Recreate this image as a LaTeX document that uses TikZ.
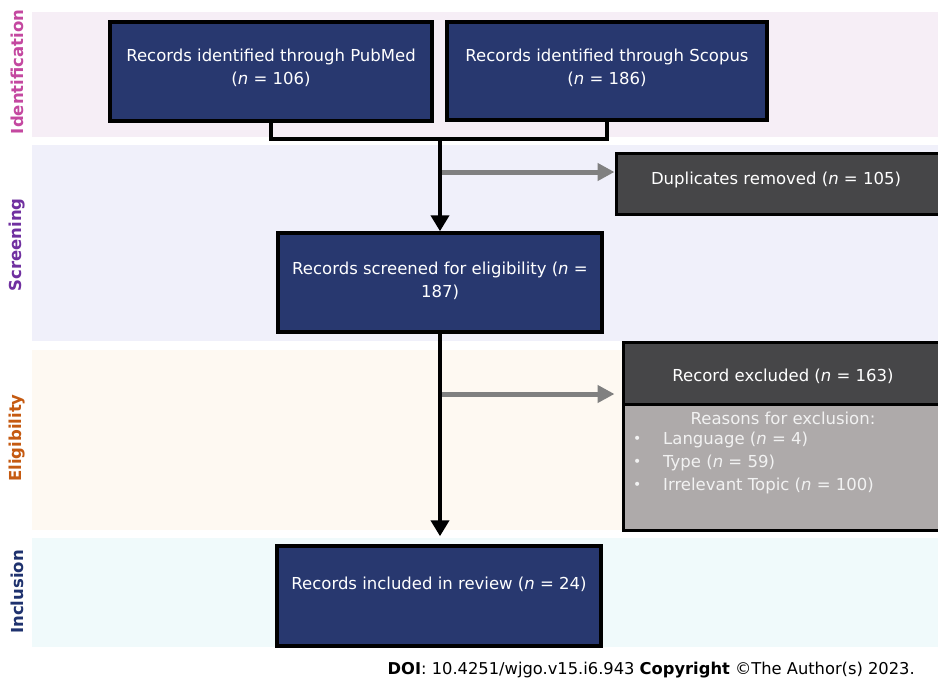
\documentclass[tikz,border=0pt]{standalone}
\usepackage{fontspec}
\setmainfont{DejaVu Sans}
\usetikzlibrary{arrows.meta}
\definecolor{navy}{RGB}{40,56,111}
\definecolor{dgray}{RGB}{70,70,72}
\definecolor{lgray}{RGB}{174,170,170}
\definecolor{agray}{RGB}{128,128,128}
\definecolor{bandI}{RGB}{246,238,246}
\definecolor{bandS}{RGB}{240,240,250}
\definecolor{bandE}{RGB}{254,249,242}
\definecolor{bandN}{RGB}{240,250,251}
\definecolor{labI}{RGB}{196,72,160}
\definecolor{labS}{RGB}{112,48,160}
\definecolor{labE}{RGB}{197,90,17}
\definecolor{labN}{RGB}{31,50,110}
\tikzset{
  navybox/.style={draw=black, line width=3.5pt, fill=navy, inner sep=0pt},
  dgbox/.style={draw=black, line width=3pt, fill=dgray, inner sep=0pt},
  lgbox/.style={draw=black, line width=3pt, fill=lgray, inner sep=0pt},
  btxt/.style={text=white, align=center, font=\fontsize{16.5}{22.5}\selectfont, inner sep=0pt},
  ltxt/.style={text=white!95!black, font=\fontsize{16.5}{22.5}\selectfont, inner sep=0pt},
  lab/.style={rotate=90, font=\bfseries\fontsize{16.5}{19}\selectfont, inner sep=0pt},
  conn/.style={draw=black, line width=4pt},
  arr/.style={draw=black, line width=4pt, -{Triangle[length=16pt,width=18pt]}},
  garr/.style={draw=agray, line width=5pt, -{Triangle[length=17pt,width=17pt]}}
}
\begin{document}
\begin{tikzpicture}[x=1pt,y=-1pt]
\useasboundingbox (0,0) rectangle (938,681);
\fill[white] (0,0) rectangle (938,681);
% bands
\fill[bandI] (32,12) rectangle (938,137);
\fill[bandS] (32,145) rectangle (938,341);
\fill[bandE] (32,350) rectangle (938,530);
\fill[bandN] (32,538) rectangle (938,647);
% stage labels
\node[lab, text=labI] (lI) at (17,72) {Identification};
\node[lab, text=labS] (lS) at (17,245) {Screening};
\node[lab, text=labE] (lE) at (17,438) {Eligibility};
\node[lab, text=labN] (lN) at (17,592) {Inclusion};
% boxes
\node[navybox, minimum width=322pt, minimum height=99pt] (pub) at (271,71.5) {};
\node[navybox, minimum width=320pt, minimum height=98pt] (scop) at (607,71) {};
\node[dgbox, minimum width=330pt, minimum height=61pt] (dup) at (781,183.5) {};
\node[navybox, minimum width=324pt, minimum height=99pt] (scr) at (440,282.5) {};
\node[dgbox, minimum width=320pt, minimum height=62pt] (exc) at (783,373) {};
\node[lgbox, minimum width=320pt, minimum height=126pt] (rea) at (783,467) {};
\node[navybox, minimum width=324pt, minimum height=100pt] (inc) at (439,596) {};
% box texts
\node[btxt] (tpub) at (271,68) {Records identified through PubMed\\(\textit{n} = 106)};
\node[btxt] (tscop) at (607,68) {Records identified through Scopus\\(\textit{n} = 186)};
\node[btxt] (tdup) at (776,180) {Duplicates removed (\textit{n} = 105)};
\node[btxt] (tscr) at (440,281) {Records screened for eligibility (\textit{n} =\\187)};
\node[btxt] (texc) at (783,376) {Record excluded (\textit{n} = 163)};
\node[ltxt] (trea) at (783,418) {Reasons for exclusion:};
\node[ltxt, anchor=west] (b1) at (633,440) {\fontsize{14}{14}\selectfont•};
\node[ltxt, anchor=west] (b2) at (633,463) {\fontsize{14}{14}\selectfont•};
\node[ltxt, anchor=west] (b3) at (633,486) {\fontsize{14}{14}\selectfont•};
\node[ltxt, anchor=west] (r1) at (663,440) {Language (\textit{n} = 4)};
\node[ltxt, anchor=west] (r2) at (663,463) {Type (\textit{n} = 59)};
\node[ltxt, anchor=west] (r3) at (663,486) {Irrelevant Topic (\textit{n} = 100)};
\node[btxt] (tinc) at (439,584) {Records included in review (\textit{n} = 24)};
% connectors
\coordinate (j) at (440,139);
\draw[conn] (pub.south) |- (j) -| (scop.south);
\draw[arr] (j) -- (scr.north);
\draw[arr, shorten >=8pt] (scr.south) -- (scr.south |- inc.north);
\coordinate (g1) at (442,172);
\draw[garr] (g1) -- (g1 -| dup.west);
\coordinate (g2) at (442,394);
\draw[garr, shorten >=7pt] (g2) -- (g2 -| exc.west);
% footer
\node[anchor=east, inner sep=0pt, font=\fontsize{16.3}{19}\selectfont] (doi) at (915,670) {\textbf{DOI}: 10.4251/wjgo.v15.i6.943 \textbf{Copyright} ©The Author(s) 2023.};
\end{tikzpicture}
\end{document}
